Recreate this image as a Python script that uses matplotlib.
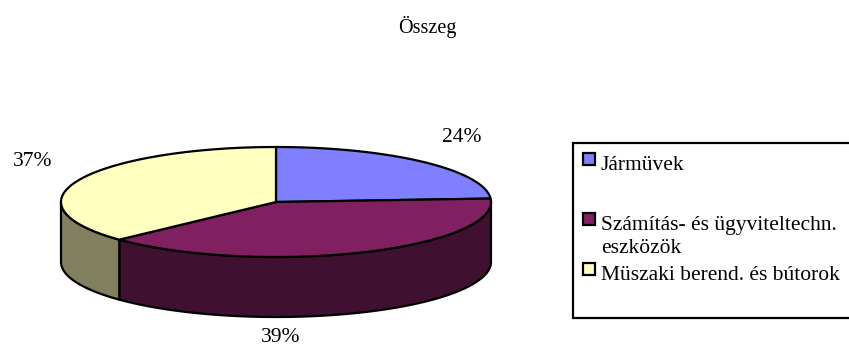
import textwrap

import numpy as np
import matplotlib
matplotlib.use("Agg")
import matplotlib.pyplot as plt
from matplotlib.patches import Polygon, Rectangle

# ---- data -------------------------------------------------------------
title = "Összeg"
categories = [
    "Jármüvek",
    "Számítás- és ügyviteltechn. eszközök",
    "Müszaki berend. és bútorok",
]
shares = [24, 39, 37]

# ---- style ------------------------------------------------------------
top_colors = ["#8080FF", "#802060", "#FFFFC0"]
side_colors = ["#404080", "#401030", "#808060"]
FONT = "Liberation Serif"
FS_TITLE = 14.5
FS = 15.5
LW = 1.6

# pie geometry in pixel units
CX, CY, RX, RY, DEPTH = 276, 202, 215, 55, 60
label_pos = [(462, 137), (281, 337), (33, 161)]

W, H = 849, 353
fig = plt.figure(figsize=(W / 100, H / 100), dpi=100)
ax = fig.add_axes([0, 0, 1, 1])
ax.set_xlim(0, W)
ax.set_ylim(H, 0)
ax.axis("off")


def rim(t_deg, dy=0.0):
    t = np.radians(t_deg)
    return np.column_stack([CX + RX * np.cos(t), CY - RY * np.sin(t) + dy])


total = float(sum(shares))
bounds = []
start = 90.0
for v in shares:
    end = start - 360.0 * v / total
    bounds.append((start, end))
    start = end

# side walls of the front half
for (t0, t1), sc in zip(bounds, side_colors):
    hi = min(t0, 0.0)
    lo = max(t1, -180.0)
    if lo < hi:
        arc = np.linspace(hi, lo, 120)
        pts = np.vstack([rim(arc), rim(arc[::-1], DEPTH)])
        ax.add_patch(Polygon(pts, closed=True, facecolor=sc,
                             edgecolor="black", linewidth=LW,
                             joinstyle="round"))

# top faces
for (t0, t1), tc in zip(bounds, top_colors):
    arc = np.linspace(t0, t1, 200)
    pts = np.vstack([[CX, CY], rim(arc)])
    ax.add_patch(Polygon(pts, closed=True, facecolor=tc,
                         edgecolor="black", linewidth=LW,
                         joinstyle="round"))

# percentage labels
for v, (lx, ly) in zip(shares, label_pos):
    ax.text(lx, ly, f"{round(v / total * 100)}%", ha="center", va="center",
            fontsize=FS, family=FONT, color="black")

# title
ax.text(427, 27, title, ha="center", va="center", fontsize=FS_TITLE,
        family=FONT, color="black")

# legend box
ax.add_patch(Rectangle((573, 143), 400, 175, facecolor="white",
                       edgecolor="black", linewidth=LW))
swatch_top = [153, 213, 263]
text_base = [170, 230, 280]
for name, tc, sy, by in zip(categories, top_colors, swatch_top, text_base):
    ax.add_patch(Rectangle((583, sy), 12, 12, facecolor=tc,
                           edgecolor="black", linewidth=LW))
    for k, line in enumerate(textwrap.wrap(name, 27)):
        ax.text(601, by + 23 * k, line, ha="left", va="baseline",
                fontsize=FS, family=FONT, color="black")

fig.savefig("out.png", dpi=100)
